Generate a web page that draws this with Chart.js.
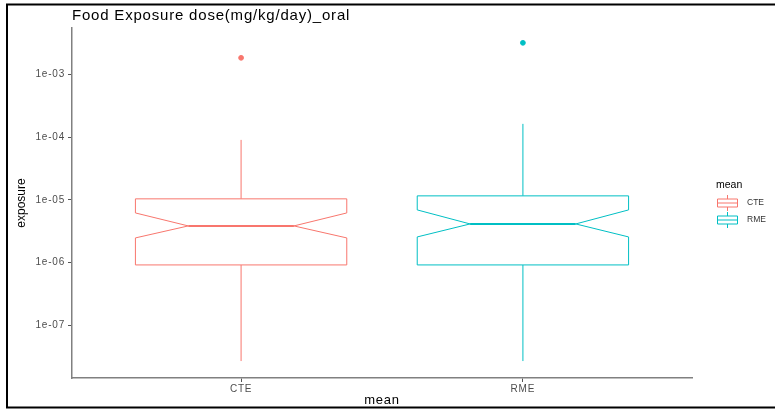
<!DOCTYPE html>
<html lang="en">
<head>
    <meta charset="UTF-8">
    <title>Food Exposure dose</title>
    <script src="https://cdn.jsdelivr.net/npm/chart.js"></script>
    <style>
        body { margin: 0; background: #fff; }
        #grafico { display: block; }
    </style>
</head>
<body>
    <canvas id="grafico" width="775" height="409"></canvas>
<script>
// valores (escala log)
var categorias = ['CTE', 'RME'];
var bigodeMin = [2.7e-8, 2.7e-8];
var quartil1 = [9.2e-7, 9.2e-7];
var entalheMin = [2.48e-6, 2.57e-6];
var mediana = [3.85e-6, 4.14e-6];
var entalheMax = [6.2e-6, 6.93e-6];
var quartil3 = [1.04e-5, 1.16e-5];
var bigodeMax = [9.05e-5, 1.63e-4];
var outliers = [[1.84e-3], [3.19e-3]];
var ticksY = [1e-7, 1e-6, 1e-5, 1e-4, 1e-3];

var cores = ['#F8766D', '#00BFC4'];
var larguraCaixa = 0.75;
var fonte = '"Liberation Sans", Arial, sans-serif';

function formataExp(v) {
    var e = Math.round(Math.log10(v));
    var s = Math.abs(e) < 10 ? '0' + Math.abs(e) : '' + Math.abs(e);
    return '1e' + (e < 0 ? '-' : '+') + s;
}

// pontos dos outliers
var pontos = [];
var corPontos = [];
for (var i = 0; i < categorias.length; i++) {
    for (var j = 0; j < outliers[i].length; j++) {
        pontos.push({ x: i + 1, y: outliers[i][j] });
        corPontos.push(cores[i]);
    }
}

var caixas = {
    id: 'caixas',
    beforeDraw: function (chart) {
        // o png original esta esticado na horizontal
        chart.ctx.letterSpacing = '0.8px';
    },
    beforeDatasetsDraw: function (chart) {
        var ctx = chart.ctx;
        var sx = chart.scales.x;
        var sy = chart.scales.y;
        for (var i = 0; i < categorias.length; i++) {
            var cx = sx.getPixelForValue(i + 1);
            var esq = sx.getPixelForValue(i + 1 - larguraCaixa / 2);
            var dir = sx.getPixelForValue(i + 1 + larguraCaixa / 2);
            var nEsq = sx.getPixelForValue(i + 1 - larguraCaixa / 4);
            var nDir = sx.getPixelForValue(i + 1 + larguraCaixa / 4);
            var yQ1 = sy.getPixelForValue(quartil1[i]);
            var yQ3 = sy.getPixelForValue(quartil3[i]);
            var yMed = sy.getPixelForValue(mediana[i]);
            var yNlo = sy.getPixelForValue(entalheMin[i]);
            var yNhi = sy.getPixelForValue(entalheMax[i]);
            var yWlo = sy.getPixelForValue(bigodeMin[i]);
            var yWhi = sy.getPixelForValue(bigodeMax[i]);

            ctx.save();
            ctx.strokeStyle = cores[i];
            ctx.lineWidth = 1;
            // bigodes
            ctx.beginPath();
            ctx.moveTo(cx, yQ3);
            ctx.lineTo(cx, yWhi);
            ctx.moveTo(cx, yQ1);
            ctx.lineTo(cx, yWlo);
            ctx.stroke();
            // caixa com entalhe
            ctx.beginPath();
            ctx.moveTo(esq, yQ3);
            ctx.lineTo(dir, yQ3);
            ctx.lineTo(dir, yNhi);
            ctx.lineTo(nDir, yMed);
            ctx.lineTo(dir, yNlo);
            ctx.lineTo(dir, yQ1);
            ctx.lineTo(esq, yQ1);
            ctx.lineTo(esq, yNlo);
            ctx.lineTo(nEsq, yMed);
            ctx.lineTo(esq, yNhi);
            ctx.closePath();
            ctx.fillStyle = '#fff';
            ctx.fill();
            ctx.stroke();
            // mediana
            ctx.lineWidth = 2;
            ctx.beginPath();
            ctx.moveTo(nEsq, yMed);
            ctx.lineTo(nDir, yMed);
            ctx.stroke();
            ctx.restore();
        }
    },
    afterDraw: function (chart) {
        var ctx = chart.ctx;
        var area = chart.chartArea;
        ctx.save();
        ctx.letterSpacing = '0px';
        // titulo do eixo y
        ctx.fillStyle = '#000';
        ctx.font = '12px ' + fonte;
        ctx.textAlign = 'center';
        ctx.textBaseline = 'middle';
        ctx.translate(22, (area.top + area.bottom) / 2);
        ctx.rotate(-Math.PI / 2);
        ctx.fillText('exposure', 0, 0);
        ctx.setTransform(1, 0, 0, 1, 0, 0);

        // legenda
        ctx.textAlign = 'left';
        ctx.font = '10.5px ' + fonte;
        ctx.fillText('mean', 716, 185);
        for (var i = 0; i < categorias.length; i++) {
            var y = 203 + i * 17;
            ctx.strokeStyle = cores[i];
            ctx.lineWidth = 1;
            ctx.beginPath();
            ctx.rect(717.5, y - 4, 20, 8);
            ctx.moveTo(717.5, y);
            ctx.lineTo(737.5, y);
            ctx.moveTo(727.5, y - 4);
            ctx.lineTo(727.5, y - 8);
            ctx.moveTo(727.5, y + 4);
            ctx.lineTo(727.5, y + 8);
            ctx.stroke();
            ctx.fillStyle = '#333';
            ctx.font = '8.5px ' + fonte;
            ctx.fillText(categorias[i], 747, y);
        }
        // moldura
        ctx.strokeStyle = '#000';
        ctx.lineWidth = 2;
        ctx.beginPath();
        ctx.moveTo(775, 4.5);
        ctx.lineTo(7, 4.5);
        ctx.lineTo(7, 407.5);
        ctx.lineTo(775, 407.5);
        ctx.stroke();
        ctx.restore();
    }
};

var grafico = new Chart(document.getElementById('grafico'), {
    type: 'scatter',
    data: {
        datasets: [{
            label: 'outliers',
            data: pontos,
            pointBackgroundColor: corPontos,
            pointBorderColor: corPontos,
            pointRadius: 2.4,
            pointHoverRadius: 2.4
        }]
    },
    options: {
        responsive: false,
        animation: false,
        devicePixelRatio: 1,
        layout: { padding: { left: 8, right: 83, top: 7, bottom: 1 } },
        plugins: {
            legend: { display: false },
            tooltip: { enabled: false },
            title: {
                display: true,
                text: 'Food Exposure dose(mg/kg/day)_oral',
                align: 'start',
                fullSize: false,
                color: '#000',
                font: { family: fonte, size: 15, weight: 'normal', lineHeight: 1.2 },
                padding: { top: 0, bottom: 3 }
            }
        },
        scales: {
            x: {
                type: 'linear',
                min: 0.4,
                max: 2.6,
                afterFit: function (s) { s.height = 30; },
                afterBuildTicks: function (s) {
                    s.ticks = categorias.map(function (c, i) { return { value: i + 1 }; });
                },
                ticks: {
                    color: '#4d4d4d',
                    padding: 1,
                    font: { family: fonte, size: 10 },
                    callback: function (v) { return categorias[v - 1]; }
                },
                grid: { drawOnChartArea: false, drawTicks: true, tickLength: 4, color: '#555', lineWidth: 1 },
                border: { display: true, color: '#808080', width: 1.5 },
                title: {
                    display: true,
                    text: 'mean',
                    color: '#000',
                    font: { family: fonte, size: 13 },
                    padding: { top: 2, bottom: 0 }
                }
            },
            y: {
                type: 'logarithmic',
                min: 1.45e-8,
                max: 5.5e-3,
                afterFit: function (s) { s.width = 64; },
                afterBuildTicks: function (s) {
                    s.ticks = ticksY.map(function (v) { return { value: v }; });
                },
                ticks: {
                    color: '#4d4d4d',
                    padding: 3,
                    font: { family: fonte, size: 10 },
                    callback: function (v) { return formataExp(v); }
                },
                grid: { drawOnChartArea: false, drawTicks: true, tickLength: 4, color: '#555', lineWidth: 1 },
                border: { display: true, color: '#808080', width: 1.5 },
                title: { display: false }
            }
        }
    },
    plugins: [caixas]
});
</script>
</body>
</html>
